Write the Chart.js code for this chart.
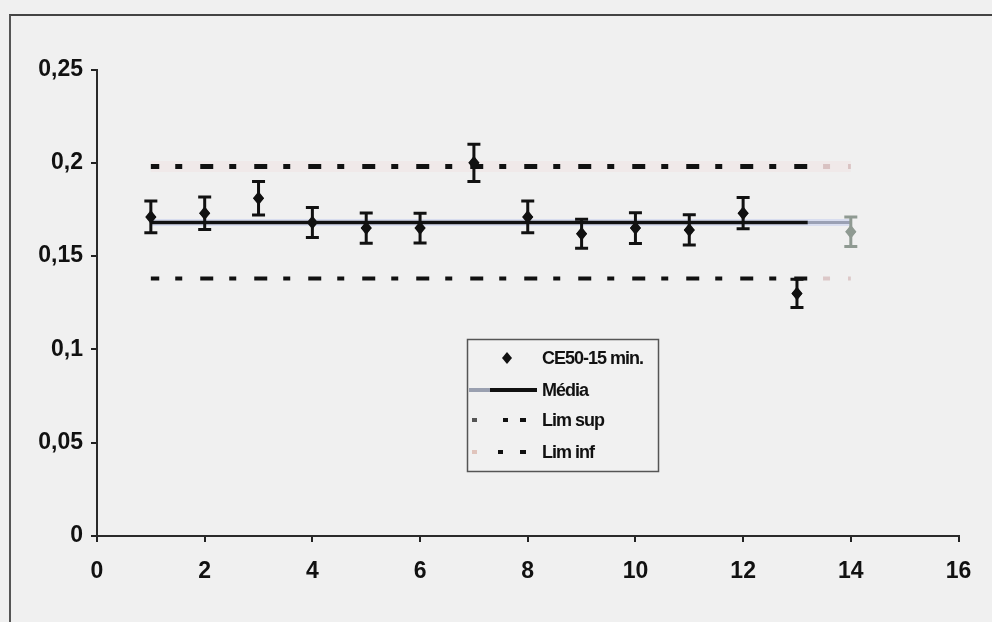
<!DOCTYPE html>
<html><head><meta charset="utf-8">
<script src="https://cdn.jsdelivr.net/npm/chart.js@4"></script>
<style>
html,body{margin:0;padding:0;background:#f0f0f0;}
#wrap{position:relative;width:992px;height:622px;overflow:hidden;background:#f0f0f0;}
#frame{position:absolute;left:9px;top:14px;width:1100px;height:700px;border-top:2px solid #444;border-left:2px solid #555;}
canvas{position:absolute;left:0;top:0;}
</style></head><body>
<div id="wrap"><div id="frame"></div><canvas id="c" width="992" height="622"></canvas></div>
<script>
// ---- data ----
const xValues = [1, 2, 3, 4, 5, 6, 7, 8, 9, 10, 11, 12, 13, 14];
const ce50Values = [0.171, 0.173, 0.181, 0.168, 0.165, 0.165, 0.200, 0.171, 0.162, 0.165, 0.164, 0.173, 0.130, 0.163];
const errValues  = [0.0085, 0.0087, 0.009, 0.008, 0.0081, 0.008, 0.010, 0.0085, 0.0078, 0.0082, 0.0081, 0.0084, 0.0076, 0.0079];
const meanValue = 0.168;
const limSupValue = 0.198;
const limInfValue = 0.138;
const lineX = [1, 13.2];        // solid black part of reference lines
const tailX = [13.2, 14];       // faded end of reference lines
const fullX = [1, 14];
const yTickValues = [0, 0.05, 0.1, 0.15, 0.2, 0.25];
const yTickLabels = ['0', '0,05', '0,1', '0,15', '0,2', '0,25'];
const xTickValues = [0, 2, 4, 6, 8, 10, 12, 14, 16];
const xTickLabels = ['0', '2', '4', '6', '8', '10', '12', '14', '16'];
const legendLabels = ['CE50-15 min.', 'Média', 'Lim sup', 'Lim inf'];

const FAM = '"Liberation Sans", Arial, Helvetica, sans-serif';
const pts = (xs, v) => xs.map(x => ({x: x, y: v}));
const DASH = [13, 16, 7, 18];

const errorBars = {
  id: 'errorBars',
  afterDatasetsDraw(chart) {
    const meta = chart.getDatasetMeta(0);
    const ys = chart.scales.y, xs = chart.scales.x;
    const c = chart.ctx;
    c.save();
    c.lineWidth = 3;
    meta.data.forEach((p, i) => {
      const x = xs.getPixelForValue(xValues[i]);
      const top = ys.getPixelForValue(ce50Values[i] + errValues[i]);
      const bot = ys.getPixelForValue(ce50Values[i] - errValues[i]);
      c.strokeStyle = i === 13 ? '#8f9a92' : '#111';
      c.beginPath();
      c.moveTo(x, top); c.lineTo(x, bot);
      c.moveTo(x - 6.5, top); c.lineTo(x + 6.5, top);
      c.moveTo(x - 6.5, bot); c.lineTo(x + 6.5, bot);
      c.stroke();
      // redraw marker on top
      c.fillStyle = i === 13 ? '#8f9a92' : '#111';
      const py = ys.getPixelForValue(ce50Values[i]);
      c.beginPath();
      c.moveTo(x, py - 7); c.lineTo(x + 5.5, py); c.lineTo(x, py + 7); c.lineTo(x - 5.5, py); c.closePath();
      c.fill();
    });
    c.restore();
  }
};

const legendBox = {
  id: 'legendBox',
  afterDraw(chart) {
    const c = chart.ctx;
    c.save();
    const L = 467.5, T = 339.5, W = 191, H = 132;
    c.fillStyle = '#f1f1f1';
    c.fillRect(L, T, W, H);
    c.strokeStyle = '#555';
    c.lineWidth = 1.5;
    c.strokeRect(L, T, W, H);
    const rows = [358, 390, 420, 452];
    // row 1 marker
    c.fillStyle = '#111';
    c.beginPath();
    c.moveTo(507, rows[0] - 6); c.lineTo(512, rows[0]); c.lineTo(507, rows[0] + 6); c.lineTo(502, rows[0]); c.closePath();
    c.fill();
    // row 2 line
    c.lineWidth = 4;
    c.strokeStyle = '#9aa0b0';
    c.beginPath(); c.moveTo(469, rows[1]); c.lineTo(490, rows[1]); c.stroke();
    c.strokeStyle = '#111';
    c.beginPath(); c.moveTo(490, rows[1]); c.lineTo(537, rows[1]); c.stroke();
    // row 3 dashes
    c.strokeStyle = '#555';
    c.beginPath(); c.moveTo(472, rows[2]); c.lineTo(477, rows[2]); c.stroke();
    c.strokeStyle = '#111';
    c.beginPath(); c.moveTo(503, rows[2]); c.lineTo(508, rows[2]); c.moveTo(520, rows[2]); c.lineTo(526, rows[2]); c.stroke();
    // row 4 dashes
    c.strokeStyle = '#e0c4bc';
    c.beginPath(); c.moveTo(472, rows[3]); c.lineTo(477, rows[3]); c.stroke();
    c.strokeStyle = '#111';
    c.beginPath(); c.moveTo(498, rows[3]); c.lineTo(503, rows[3]); c.moveTo(520, rows[3]); c.lineTo(526, rows[3]); c.stroke();
    // texts
    c.fillStyle = '#111';
    c.font = 'bold 18px ' + FAM;
    try { c.letterSpacing = '-1px'; } catch (e) {}
    c.textBaseline = 'middle';
    c.textAlign = 'left';
    legendLabels.forEach((t, i) => c.fillText(t, 542, rows[i] + 1));
    c.restore();
  }
};

const axisCommon = {
  grid: { drawOnChartArea: false, drawTicks: true, tickLength: 6, color: '#222', lineWidth: 2 },
  border: { display: true, color: '#2a2a2a', width: 2 }
};

new Chart(document.getElementById('c'), {
  type: 'scatter',
  data: {
    datasets: [
      { label: legendLabels[0], data: xValues.map((x, i) => ({x: x, y: ce50Values[i]})),
        showLine: false, pointStyle: 'rectRot', pointRadius: 5.5, borderWidth: 0,
        pointBackgroundColor: ctx => ctx.dataIndex === 13 ? '#8f9a92' : '#111',
        pointBorderColor: 'rgba(0,0,0,0)', order: 0 },
      { label: 'meanBand', data: pts(fullX, meanValue), showLine: true, pointRadius: 0,
        borderColor: 'rgba(200,208,238,0.6)', borderWidth: 7, order: 8 },
      { label: 'meanTail', data: pts(tailX, meanValue), showLine: true, pointRadius: 0,
        borderColor: '#9aa0b4', borderWidth: 3, order: 6 },
      { label: legendLabels[1], data: pts(lineX, meanValue), showLine: true, pointRadius: 0,
        borderColor: '#111', borderWidth: 3.5, order: 2 },
      { label: 'supBand', data: pts(fullX, limSupValue), showLine: true, pointRadius: 0,
        borderColor: 'rgba(240,212,212,0.25)', borderWidth: 11, order: 9 },
      { label: legendLabels[2], data: pts(lineX, limSupValue), showLine: true, pointRadius: 0,
        borderColor: '#111', borderWidth: 5, borderDash: DASH, borderDashOffset: 4.6, borderCapStyle: 'butt', order: 3 },
      { label: 'supTail', data: pts(tailX, limSupValue), showLine: true, pointRadius: 0,
        borderColor: '#d9c2c2', borderWidth: 5, borderDash: DASH, borderDashOffset: 13.7, order: 7 },
      { label: legendLabels[3], data: pts(lineX, limInfValue), showLine: true, pointRadius: 0,
        borderColor: '#111', borderWidth: 4, borderDash: DASH, borderDashOffset: 4.6, borderCapStyle: 'butt', order: 4 },
      { label: 'infTail', data: pts(tailX, limInfValue), showLine: true, pointRadius: 0,
        borderColor: '#dcc8c8', borderWidth: 4, borderDash: DASH, borderDashOffset: 13.7, order: 7 }
    ]
  },
  options: {
    responsive: false,
    animation: false,
    layout: { padding: { top: 69.5, right: 33.5, left: 0, bottom: 0 } },
    plugins: { legend: { display: false }, tooltip: { enabled: false } },
    scales: {
      x: Object.assign({
        type: 'linear', min: 0, max: 16,
        afterBuildTicks: s => { s.ticks = xTickValues.map(v => ({value: v})); },
        afterFit: s => { s.height = 86; },
        ticks: { padding: 16, color: '#111', font: { family: FAM, size: 23, weight: 'bold' },
                 callback: (v, i) => xTickLabels[i], maxRotation: 0, autoSkip: false }
      }, axisCommon),
      y: Object.assign({
        min: 0, max: 0.25,
        afterBuildTicks: s => { s.ticks = yTickValues.map(v => ({value: v})); },
        afterFit: s => { s.width = 97; },
        ticks: { padding: 8, color: '#111', font: { family: FAM, size: 23, weight: 'bold' },
                 callback: (v, i) => yTickLabels[i], autoSkip: false }
      }, axisCommon)
    }
  },
  plugins: [errorBars, legendBox]
});
</script>
</body></html>
